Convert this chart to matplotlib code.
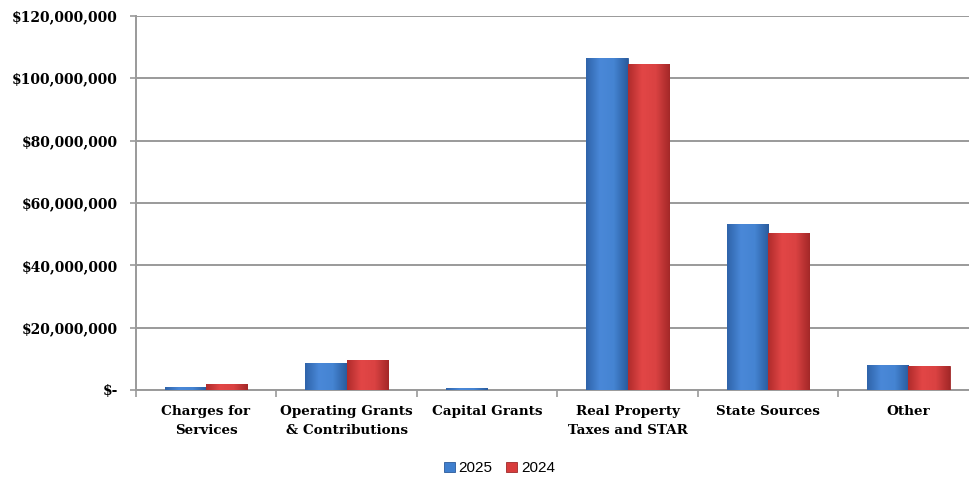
import numpy as np
import matplotlib
matplotlib.use('Agg')
import matplotlib.pyplot as plt
from matplotlib.colors import LinearSegmentedColormap
from matplotlib.ticker import FuncFormatter, MultipleLocator

# Revenue by source, two fiscal years

categories = ['Charges for\nServices', 'Operating Grants\n& Contributions', 'Capital Grants',
              'Real Property\nTaxes and STAR', 'State Sources', 'Other']
values2025 = [1.0e6, 8.7e6, 0.7e6, 106.6e6, 53.3e6, 8.0e6]
values2024 = [1.8e6, 9.6e6, 0.0, 104.6e6, 50.4e6, 7.7e6]
seriesNames = ['2025', '2024']


def money(v, pos):
    if v == 0:
        return '$-'
    return '${:,.0f}'.format(v)


fig = plt.figure(figsize=(9.7, 4.79), dpi=100)
# the plot area runs a little past the right edge of the picture, as in the original
ax = fig.add_axes([0.140, 0.186, 0.869, 0.781])

x = np.arange(len(categories))
width = 0.295

blueBars = ax.bar(x - width / 2, values2025, width, color='#3f7fce', edgecolor='#2b5a9a',
                  linewidth=0.6, label=seriesNames[0], zorder=3)
redBars = ax.bar(x + width / 2, values2024, width, color='#d83c3c', edgecolor='#9e2a2a',
                 linewidth=0.6, label=seriesNames[1], zorder=3)

# fake the bevelled Excel look with a horizontal gradient clipped to each bar
blueMap = LinearSegmentedColormap.from_list('b', ['#2f64aa', '#4a88d8', '#4584d2', '#2a5c9e'])
redMap = LinearSegmentedColormap.from_list('r', ['#b02c2c', '#e24646', '#da4242', '#a42828'])
grad = np.linspace(0, 1, 64).reshape(1, -1)
for bars, cmap in [(blueBars, blueMap), (redBars, redMap)]:
    for b in bars:
        h = b.get_height()
        if h <= 0:
            continue
        x0 = b.get_x()
        im = ax.imshow(grad, cmap=cmap, aspect='auto', zorder=4,
                       extent=[x0, x0 + b.get_width(), 0, h])
        im.set_clip_path(b)

ax.set_xlim(-0.5, len(categories) - 0.5)
ax.set_ylim(0, 120e6)
ax.yaxis.set_major_locator(MultipleLocator(20e6))
ax.yaxis.set_major_formatter(FuncFormatter(money))
ax.grid(axis='y', color='#9a9a9a', linewidth=1.4, zorder=0)
ax.set_axisbelow(True)

ax.set_xticks(x)
ax.set_xticklabels(categories)
ax.set_xticks(np.arange(len(categories) + 1) - 0.5, minor=True)
ax.tick_params(axis='x', which='major', length=0, pad=11)
ax.tick_params(axis='x', which='minor', length=5, color='#9a9a9a', width=1.2)
ax.tick_params(axis='y', length=4, color='#9a9a9a', width=1.2, pad=9)

for lab in ax.get_yticklabels():
    lab.set_fontfamily('DejaVu Serif')
    lab.set_fontweight('bold')
    lab.set_fontsize(10)
for lab in ax.get_xticklabels():
    lab.set_fontfamily('DejaVu Serif')
    lab.set_fontweight('bold')
    lab.set_fontsize(9.7)
    lab.set_linespacing(1.6)

for side in ['top', 'right']:
    ax.spines[side].set_visible(False)
for side in ['left', 'bottom']:
    ax.spines[side].set_color('#9a9a9a')
    ax.spines[side].set_linewidth(1.4)

leg = fig.legend(handles=[blueBars, redBars], labels=seriesNames, loc='center',
                 bbox_to_anchor=(0.515, 0.022), ncol=2, frameon=False,
                 prop={'family': 'Liberation Sans', 'size': 11},
                 handlelength=0.7, handleheight=0.7, handletextpad=0.25, columnspacing=0.9)

fig.savefig('out.png', dpi=100)
